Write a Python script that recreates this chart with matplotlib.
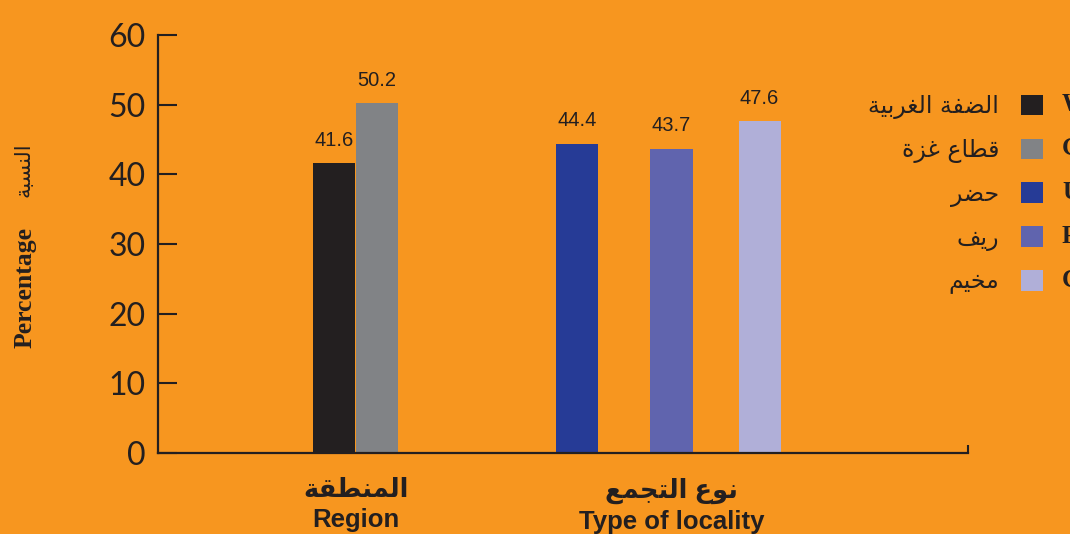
import matplotlib
matplotlib.use('Agg')
import matplotlib.pyplot as plt

# Arabic letters -> (isolated form codepoint, joins to the next letter)
FORMS = {
    'ا': (0xFE8D, False), 'ب': (0xFE8F, True), 'ة': (0xFE93, False),
    'ت': (0xFE95, True), 'ج': (0xFE9D, True), 'ح': (0xFEA1, True),
    'خ': (0xFEA5, True), 'ر': (0xFEAD, False), 'ز': (0xFEAF, False),
    'س': (0xFEB1, True), 'ض': (0xFEBD, True), 'ط': (0xFEC1, True),
    'ع': (0xFEC9, True), 'غ': (0xFECD, True), 'ف': (0xFED1, True),
    'ق': (0xFED5, True), 'ل': (0xFEDD, True), 'م': (0xFEE1, True),
    'ن': (0xFEE5, True), 'و': (0xFEED, False), 'ي': (0xFEF1, True),
}


def shape(text):
    # simple contextual shaping + reverse to visual order (matplotlib has no bidi)
    out = []
    for i, ch in enumerate(text):
        if ch not in FORMS:
            out.append(ch)
            continue
        base, dual = FORMS[ch]
        prev = text[i - 1] if i > 0 else ''
        nxt = text[i + 1] if i + 1 < len(text) else ''
        cp = prev in FORMS and FORMS[prev][1]
        cn = dual and nxt in FORMS
        if cp and cn:
            off = 3
        elif cp:
            off = 1
        elif cn:
            off = 2
        else:
            off = 0
        out.append(chr(base + off))
    return ''.join(out[::-1])


# data
legend_ar = ['الضفة الغربية', 'قطاع غزة', 'حضر', 'ريف', 'مخيم']
legend_en = ['West Bank', 'Gaza Strip', 'Urban', 'Rural', 'Camps']
values = [41.6, 50.2, 44.4, 43.7, 47.6]
group_ar = ['المنطقة', 'نوع التجمع']
group_en = ['Region', 'Type of locality']
y_ticks = [0, 10, 20, 30, 40, 50, 60]

colors = ['#231F20', '#818386', '#263B96', '#6064AE', '#B0AFD8']
positions = [4.1, 5.1, 9.75, 11.95, 14.0]
group_pos = [4.6, 11.95]
bg = '#F7961F'
ink = '#231F20'

fig = plt.figure(figsize=(10.7, 5.34), dpi=100, facecolor=bg)
ax = fig.add_axes([158 / 1070, 1 - 453 / 534, 810 / 1070, 418 / 534])
ax.set_facecolor(bg)

bars = ax.bar(positions, values, width=0.98, color=colors, edgecolor='none')

for x, v in zip(positions, values):
    ax.text(x, v + 1.9, f'{v:.1f}', ha='center', va='bottom',
            fontsize=14.5, family='Liberation Sans', color=ink)

ax.set_xlim(0, 18.85)
ax.set_ylim(0, 60)
for s in ['top', 'right']:
    ax.spines[s].set_visible(False)
for s in ['left', 'bottom']:
    ax.spines[s].set_linewidth(1.6)
    ax.spines[s].set_color(ink)

ax.set_yticks(y_ticks)
ax.set_yticklabels([str(t) for t in y_ticks], family='Lato', fontsize=23, color=ink)
ax.tick_params(axis='y', direction='in', length=14, width=1.5, color=ink, pad=9)

ax.set_xticks(group_pos)
ax.set_xticklabels([shape(a) + '\n' + e for a, e in zip(group_ar, group_en)],
                   family=['Liberation Sans', 'DejaVu Sans'], fontweight='bold',
                   fontsize=18.5, color=ink, linespacing=1.3)
ax.tick_params(axis='x', length=0, pad=18)
ax.set_xticks([18.85], minor=True)
ax.tick_params(axis='x', which='minor', direction='in', length=6, width=1.5, color=ink)

fig.text(25 / 1070, 1 - 288 / 534, 'Percentage', rotation=90, ha='center', va='center',
         family='Liberation Serif', fontweight='bold', fontsize=18.5, color=ink)
fig.text(23 / 1070, 1 - 170 / 534, shape('النسبة'), rotation=90, ha='center', va='center',
         family='DejaVu Sans', fontsize=15, color=ink)

leg = ax.legend(bars.patches, [shape(t) for t in legend_ar], loc='upper right',
                bbox_to_anchor=(1043 / 1070, 1 - 94 / 534), bbox_transform=fig.transFigure,
                frameon=False, markerfirst=False, borderpad=0, borderaxespad=0,
                handlelength=0.95, handleheight=0.95, handletextpad=0.9,
                labelspacing=0.8, prop={'family': 'DejaVu Sans', 'size': 17})
for t in leg.get_texts():
    t.set_color(ink)

# english legend labels, cut off by the right edge like in the original
fig.canvas.draw()
inv = fig.transFigure.inverted()
for p, en in zip(leg.legend_handles, legend_en):
    bb = p.get_window_extent()
    y = inv.transform((0, (bb.y0 + bb.y1) / 2))[1]
    fig.text(1062 / 1070, y, en, ha='left', va='center', family='Liberation Serif',
             fontweight='bold', fontsize=18, color=ink)

fig.savefig('out.png', dpi=100, facecolor=bg)
